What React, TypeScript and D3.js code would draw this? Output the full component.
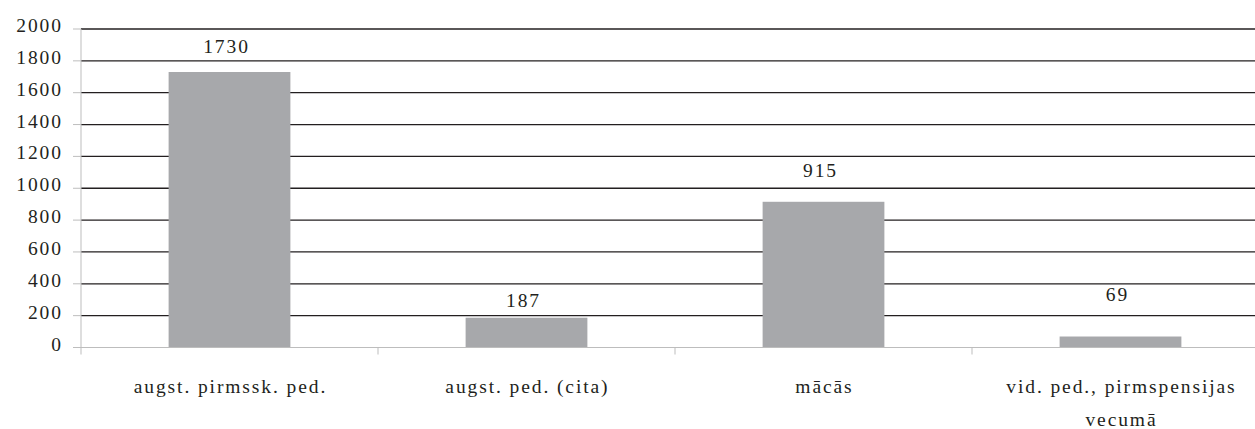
import React from "react";
import * as d3 from "d3";

const categories: string[] = [
  "augst. pirmssk. ped.",
  "augst. ped. (cita)",
  "mācās",
  "vid. ped., pirmspensijas\nvecumā",
];
const values: number[] = [1730, 187, 915, 69];
const yTicks: number[] = [0, 200, 400, 600, 800, 1000, 1200, 1400, 1600, 1800, 2000];
// vertical gap between bar top and its value label (style)
const labelGap: number[] = [19, 11, 25, 36];

const W = 1255;
const H = 429;
const FONT = "'Liberation Serif', 'Times New Roman', serif";
const FS = 19.5;
const LS = 1.9;
const TEXT = "#231f20";

export default function App() {
  const left = 81;
  const right = left + 4 * 297;
  const y = d3.scaleLinear().domain([0, 2000]).range([347.5, 29]);
  const x = d3
    .scaleBand<string>()
    .domain(categories)
    .range([left, right])
    .paddingInner(0.59)
    .paddingOuter(0.295);
  const band = d3.scaleBand<string>().domain(categories).range([left, right]).padding(0);
  const y0 = y(0);

  return (
    <svg
      width={W}
      height={H}
      style={{ position: "absolute", left: 0, top: 0, background: "#fff" }}
      fontFamily={FONT}
    >
      {/* gridlines */}
      {yTicks
        .filter((t) => t > 0)
        .map((t) => (
          <line key={"g" + t} x1={left} x2={W} y1={y(t)} y2={y(t)} stroke={TEXT} strokeWidth={1.3} />
        ))}
      {/* y axis */}
      <line x1={left} x2={left} y1={y(2000)} y2={y0 + 7} stroke="#bdbdbd" strokeWidth={1} />
      {yTicks.map((t) => (
        <g key={"t" + t}>
          <line x1={left - 8} x2={left} y1={y(t)} y2={y(t)} stroke="#bdbdbd" strokeWidth={1} />
          <text
            x={61 + LS}
            y={y(t) + 3}
            textAnchor="end"
            fontSize={FS}
            letterSpacing={LS}
            fill={TEXT}
          >
            {t}
          </text>
        </g>
      ))}
      {/* bars */}
      {categories.map((c, i) => (
        <rect key={"b" + i} x={x(c)} width={x.bandwidth()} y={y(values[i])} height={y0 - y(values[i])} fill="#a7a8ab" />
      ))}
      {/* x axis */}
      <line x1={left} x2={W} y1={y0} y2={y0} stroke="#bdbdbd" strokeWidth={1.2} />
      {categories.map((c, i) =>
        i > 0 ? (
          <line key={"xt" + i} x1={band(c)!} x2={band(c)!} y1={y0} y2={y0 + 7} stroke="#bdbdbd" strokeWidth={1} />
        ) : null
      )}
      {/* value labels */}
      {categories.map((c, i) => (
        <text
          key={"v" + i}
          x={x(c)! + x.bandwidth() / 2 - 3}
          y={y(values[i]) - labelGap[i]}
          textAnchor="middle"
          fontSize={FS}
          letterSpacing={LS}
          fill={TEXT}
        >
          {values[i]}
        </text>
      ))}
      {/* category labels */}
      {categories.map((c, i) => (
        <text
          key={"c" + i}
          x={band(c)! + band.bandwidth() / 2 + LS / 2}
          y={393}
          textAnchor="middle"
          fontSize={FS}
          letterSpacing={LS}
          fill={TEXT}
        >
          {c.split("\n").map((line, j) => (
            <tspan key={j} x={band(c)! + band.bandwidth() / 2 + LS / 2} dy={j === 0 ? 0 : 33}>
              {line}
            </tspan>
          ))}
        </text>
      ))}
    </svg>
  );
}
